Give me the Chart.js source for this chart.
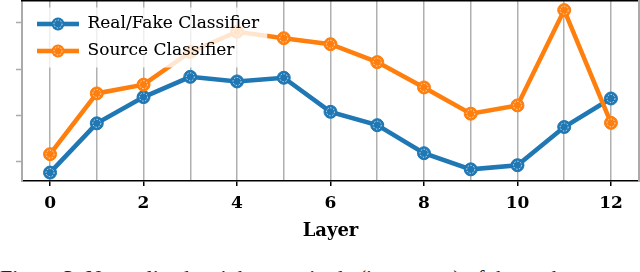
<!DOCTYPE html>
<html>
<head>
<meta charset="utf-8">
<script src="https://cdn.jsdelivr.net/npm/chart.js@4.4.0/dist/chart.umd.min.js"></script>
<style>
  html, body { margin: 0; padding: 0; background: #fff; }
  body { width: 640px; height: 272px; overflow: hidden; position: relative; }
  #wrap { position: absolute; left: 0; top: 0; width: 640px; height: 246px; }
  #caption {
    position: absolute; left: 0; top: 267px; white-space: nowrap;
    font-family: 'Liberation Serif', serif; font-size: 22px; line-height: 22px; color: #222;
  }
</style>
</head>
<body>
<div id="wrap"><canvas id="chart"></canvas></div>
<div id="caption">Figure 3: Normalized weight magnitude (in percent) of the each</div>
<script>
// layer index on the x axis
const layers = [0, 1, 2, 3, 4, 5, 6, 7, 8, 9, 10, 11, 12];
const xTickLabels = ['0', '', '2', '', '4', '', '6', '', '8', '', '10', '', '12'];

// series (no labels on the y axis)
const realFake = [0.75, 1.82, 2.39, 2.83, 2.73, 2.81, 2.07, 1.78, 1.17, 0.82, 0.91, 1.74, 2.36];
const source = [1.15, 2.47, 2.66, 3.37, 3.81, 3.67, 3.54, 3.15, 2.60, 2.03, 2.21, 4.28, 1.83];

const yTicks = [1, 2, 3, 4];

const BLUE = '#1f77b4';
const ORANGE = '#ff7f0e';

/**
 * legend sample: line with a marker, like matplotlib
 */
function legendIcon(color) {
  const c = document.createElement('canvas');
  c.width = 42;
  c.height = 16;
  const g = c.getContext('2d');
  g.strokeStyle = color;
  g.lineWidth = 4.5;
  g.beginPath();
  g.moveTo(0, 8);
  g.lineTo(42, 8);
  g.stroke();
  g.fillStyle = color;
  g.beginPath();
  g.arc(21, 8, 6.5, 0, Math.PI * 2);
  g.fill();
  g.setLineDash([1.5, 1.5]);
  g.strokeStyle = 'rgba(255,255,255,0.75)';
  g.lineWidth = 1;
  g.beginPath();
  g.arc(21, 8, 4, 0, Math.PI * 2);
  g.stroke();
  return c;
}

const icons = [legendIcon(BLUE), legendIcon(ORANGE)];

function makeDataset(label, values, color, order) {
  return {
    label: label,
    data: layers.map((l, i) => ({ x: l, y: values[i] })),
    borderColor: color,
    backgroundColor: color,
    borderWidth: 4.5,
    pointRadius: 6.5,
    pointBackgroundColor: color,
    pointBorderColor: color,
    pointBorderWidth: 1,
    tension: 0,
    clip: 10,
    order: order
  };
}

// frame axes: only the border line, no ticks
function frameAxis(position, color) {
  return {
    type: 'linear',
    position: position,
    display: true,
    ticks: { display: false, padding: 0 },
    grid: { display: false, drawTicks: false, tickLength: 0 },
    border: { color: color, width: position === 'top' ? 1.5 : 2 }
  };
}

// legend inside the plot, on top of the lines with a faded white box
const legendOnTop = {
  id: 'legendOnTop',
  afterLayout(chart) {
    const lg = chart.legend;
    lg.left += 5; lg.right += 5;
    lg.top += 5.5; lg.bottom += 5.5;
  },
  afterDatasetDraw(chart, args) {
    const ctx = chart.ctx;
    ctx.save();
    ctx.setLineDash([1.5, 1.5]);
    ctx.strokeStyle = 'rgba(255,255,255,0.75)';
    ctx.lineWidth = 1;
    args.meta.data.forEach(el => {
      ctx.beginPath();
      ctx.arc(el.x, el.y, 4, 0, Math.PI * 2);
      ctx.stroke();
    });
    ctx.restore();
  },
  afterDatasetsDraw(chart) {
    const lg = chart.legend;
    const boxes = lg.legendHitBoxes;
    if (!boxes || !boxes.length) return;
    const l = Math.min(...boxes.map(b => b.left)) - 8;
    const t = Math.min(...boxes.map(b => b.top)) - 8;
    const r = Math.max(...boxes.map(b => b.left + b.width)) + 8;
    const b = Math.max(...boxes.map(b => b.top + b.height)) + 8;
    const ctx = chart.ctx;
    ctx.save();
    ctx.fillStyle = 'rgba(255,255,255,0.8)';
    ctx.fillRect(l, t, r - l, b - t);
    ctx.restore();
    lg.draw();
  }
};

const ctx = document.getElementById('chart').getContext('2d');

new Chart(ctx, {
  type: 'line',
  data: {
    datasets: [
      makeDataset('Real/Fake Classifier', realFake, BLUE, 1),
      makeDataset('Source Classifier', source, ORANGE, 0)
    ]
  },
  options: {
    responsive: true,
    maintainAspectRatio: false,
    animation: false,
    devicePixelRatio: 1,
    layout: { autoPadding: false, padding: { left: 16, right: 1, top: 1, bottom: 0 } },
    scales: {
      x: {
        type: 'linear',
        position: 'bottom',
        min: -0.6,
        max: 12.6,
        afterBuildTicks: scale => { scale.ticks = layers.map(v => ({ value: v })); },
        ticks: {
          autoSkip: false,
          maxRotation: 0,
          padding: 7,
          color: '#000',
          font: { family: 'DejaVu Serif', size: 17, weight: 'bold' },
          callback: (value, index) => xTickLabels[index]
        },
        grid: {
          color: 'rgba(150,150,150,0.75)',
          lineWidth: 1.5,
          tickLength: 5,
          tickWidth: 1.5,
          tickColor: c => (xTickLabels[c.index] ? '#000' : 'rgba(0,0,0,0)')
        },
        border: { color: '#000', width: 1.5 },
        title: {
          display: true,
          text: 'Layer',
          color: '#000',
          font: { family: 'DejaVu Serif', size: 18, weight: 'bold' },
          padding: { top: 0, bottom: 4 }
        }
      },
      y: {
        type: 'linear',
        position: 'left',
        min: 0.567,
        max: 4.478,
        afterBuildTicks: scale => { scale.ticks = yTicks.map(v => ({ value: v })); },
        ticks: { display: false },
        grid: {
          drawOnChartArea: false,
          drawTicks: true,
          tickLength: 6,
          tickWidth: 1.5,
          tickColor: '#aaa'
        },
        border: { color: '#aaa', width: 2 }
      },
      xTop: frameAxis('top', '#000'),
      yRight: frameAxis('right', '#aaa')
    },
    plugins: {
      tooltip: { enabled: false },
      legend: {
        position: 'chartArea',
        align: 'start',
        labels: {
          usePointStyle: true,
          pointStyleWidth: 42,
          padding: 10,
          color: '#000',
          font: { family: 'DejaVu Serif', size: 17 },
          sort: (a, b) => a.datasetIndex - b.datasetIndex,
          generateLabels: chart => {
            const items = Chart.defaults.plugins.legend.labels.generateLabels(chart);
            items.forEach(it => { it.pointStyle = icons[it.datasetIndex]; });
            return items;
          }
        }
      }
    }
  },
  plugins: [legendOnTop]
});
</script>
</body>
</html>
